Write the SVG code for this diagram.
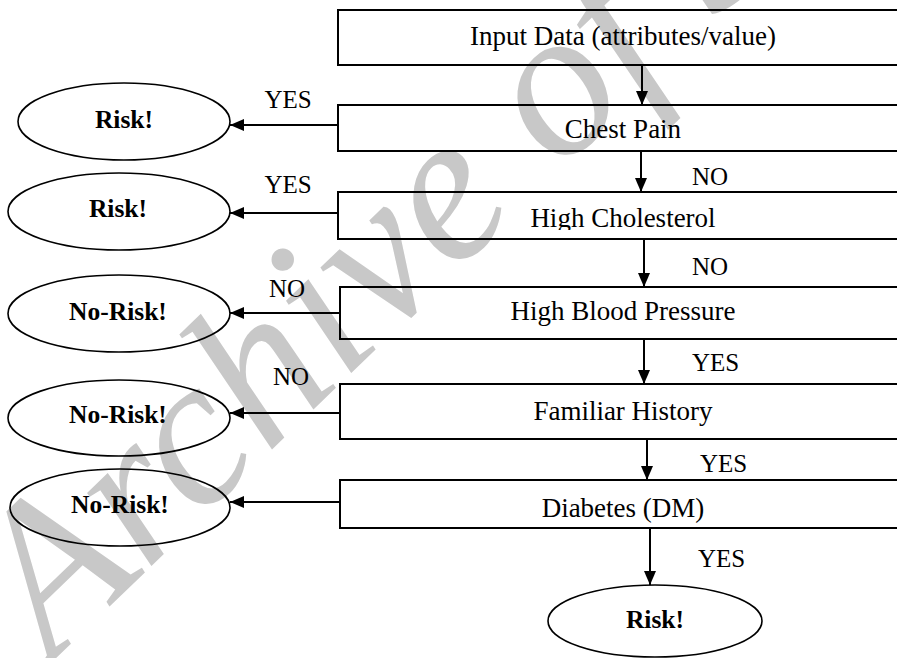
<svg xmlns="http://www.w3.org/2000/svg" width="897" height="658" viewBox="0 0 897 658">
<defs>
<style>
.box{fill:none;stroke:#000;stroke-width:2}
.ell{fill:none;stroke:#000;stroke-width:1.6}
.t{font-family:"Liberation Serif","Times New Roman",serif;font-size:27px;fill:#000;text-anchor:middle}
.b{font-family:"Liberation Serif","Times New Roman",serif;font-size:25.5px;font-weight:bold;fill:#000;text-anchor:middle}
.lab{font-family:"Liberation Serif","Times New Roman",serif;font-size:25px;fill:#000}
.c{fill:none;stroke:#000;stroke-width:2}
.wm{font-family:"Liberation Serif","Times New Roman",serif;font-size:212px;font-style:italic;fill:#c8c8c8}
</style>
<marker id="ah" viewBox="0 0 14 12" refX="14" refY="6" markerWidth="14" markerHeight="12" markerUnits="userSpaceOnUse" orient="auto">
<path d="M0,0 L14,6 L0,12 Z" fill="#000"/>
</marker>
<clipPath id="clipHC"><rect x="338" y="192" width="570" height="38"/></clipPath>
</defs>
<rect width="897" height="658" fill="#fff"/>
<text class="wm" transform="translate(52,662) rotate(-44)">Archive of SID</text>

<g id="n_input"><rect class="box" x="338" y="10" width="570" height="55"/><text class="t" x="623" y="45">Input Data (attributes/value)</text></g>
<g id="n_chest"><rect class="box" x="338" y="105" width="570" height="46"/><text class="t" x="623" y="138">Chest Pain</text></g>
<g id="n_chol"><rect class="box" x="338" y="192" width="570" height="47"/><text class="t" x="623" y="227" clip-path="url(#clipHC)">High Cholesterol</text></g>
<g id="n_bp"><rect class="box" x="340" y="287" width="568" height="52"/><text class="t" x="623" y="320">High Blood Pressure</text></g>
<g id="n_fam"><rect class="box" x="340" y="384" width="568" height="55"/><text class="t" x="623" y="420">Familiar History</text></g>
<g id="n_dm"><rect class="box" x="340" y="480" width="568" height="48"/><text class="t" x="623" y="517">Diabetes (DM)</text></g>

<g id="o_risk1"><ellipse class="ell" cx="124" cy="121.5" rx="106" ry="38.5"/><text class="b" x="124" y="128">Risk!</text></g>
<g id="o_risk2"><ellipse class="ell" cx="119" cy="211.5" rx="111" ry="38.5"/><text class="b" x="118" y="217">Risk!</text></g>
<g id="o_norisk1"><ellipse class="ell" cx="119" cy="313.5" rx="111" ry="38.5"/><text class="b" x="118" y="320">No-Risk!</text></g>
<g id="o_norisk2"><ellipse class="ell" cx="119" cy="418" rx="111" ry="38"/><text class="b" x="118" y="423">No-Risk!</text></g>
<g id="o_norisk3"><ellipse class="ell" cx="120" cy="507.5" rx="110" ry="38.5"/><text class="b" x="120" y="513">No-Risk!</text></g>
<g id="o_risk3"><ellipse class="ell" cx="655" cy="621" rx="107" ry="36"/><text class="b" x="655" y="628">Risk!</text></g>

<g id="connectors">
<line class="c" x1="642" y1="65" x2="642" y2="105" marker-end="url(#ah)"/>
<line class="c" x1="641" y1="151" x2="641" y2="192" marker-end="url(#ah)"/>
<line class="c" x1="644" y1="239" x2="644" y2="287" marker-end="url(#ah)"/>
<line class="c" x1="644" y1="339" x2="644" y2="384" marker-end="url(#ah)"/>
<line class="c" x1="647" y1="439" x2="647" y2="480" marker-end="url(#ah)"/>
<line class="c" x1="650" y1="528" x2="650" y2="585" marker-end="url(#ah)"/>
<line class="c" x1="338" y1="125" x2="230" y2="125" marker-end="url(#ah)"/>
<line class="c" x1="338" y1="213" x2="230" y2="213" marker-end="url(#ah)"/>
<line class="c" x1="340" y1="313" x2="230" y2="313" marker-end="url(#ah)"/>
<line class="c" x1="340" y1="413" x2="230" y2="413" marker-end="url(#ah)"/>
<line class="c" x1="340" y1="502" x2="230" y2="502" marker-end="url(#ah)"/>
<text class="lab" x="288" y="108" text-anchor="middle">YES</text>
<text class="lab" x="288" y="193" text-anchor="middle">YES</text>
<text class="lab" x="287" y="297" text-anchor="middle">NO</text>
<text class="lab" x="291" y="385" text-anchor="middle">NO</text>
<text class="lab" x="692" y="185">NO</text>
<text class="lab" x="692" y="275">NO</text>
<text class="lab" x="692" y="371">YES</text>
<text class="lab" x="700" y="472">YES</text>
<text class="lab" x="698" y="567">YES</text>
</g>
</svg>
